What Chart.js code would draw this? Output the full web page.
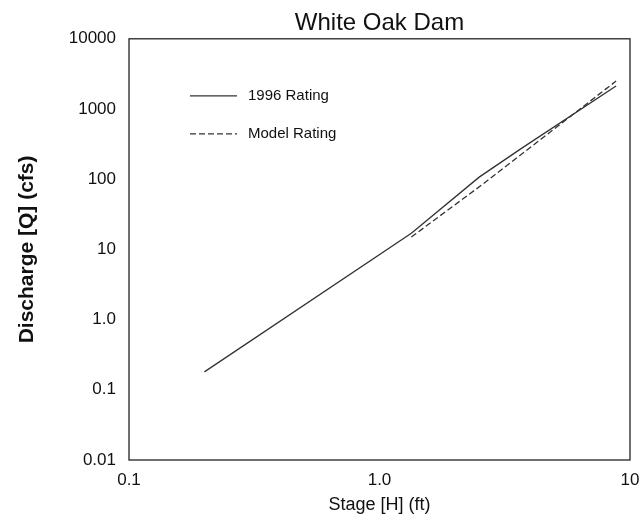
<!DOCTYPE html>
<html>
<head>
<meta charset="utf-8">
<title>White Oak Dam</title>
<script src="https://cdn.jsdelivr.net/npm/chart.js@4.4.0/dist/chart.umd.min.js"></script>
<style>
  html, body { margin: 0; padding: 0; background: #fff; }
  #wrap { width: 643px; height: 521px; }
</style>
</head>
<body>
<div id="wrap"><canvas id="grafico"></canvas></div>
<script>
// datos (escala log-log)
const ratingStage = [0.2, 1.34, 2.5, 3.7, 8.8];
const ratingFlow = [0.18, 17, 107, 277, 2130];

const modelStage = [1.34, 2.55, 8.8];
const modelFlow = [15, 82, 2500];

const xTicks = [0.1, 1, 10];
const xTickLabels = ["0.1", "1.0", "10"];
const yTicks = [0.01, 0.1, 1, 10, 100, 1000, 10000];
const yTickLabels = ["0.01", "0.1", "1.0", "10", "100", "1000", "10000"];

const fuente = '"Liberation Sans", Arial, Helvetica, sans-serif';
const toPoints = (xs, ys) => xs.map((x, i) => ({ x: x, y: ys[i] }));

// marco completo alrededor del area del grafico
const marco = {
    id: 'marco',
    afterDraw(chart) {
        const { ctx, chartArea: a } = chart;
        ctx.save();
        ctx.strokeStyle = '#222';
        ctx.lineWidth = 1.3;
        ctx.strokeRect(a.left, a.top, a.right - a.left, a.bottom - a.top);
        ctx.restore();
    }
};

// leyenda dentro del area, arriba a la izquierda
const leyenda = {
    id: 'leyenda',
    afterDraw(chart) {
        const { ctx, chartArea: a } = chart;
        ctx.save();
        chart.data.datasets.forEach((ds, i) => {
            const y = a.top + 57 + i * 38;
            ctx.strokeStyle = ds.borderColor;
            ctx.lineWidth = ds.borderWidth;
            ctx.setLineDash(ds.borderDash || []);
            ctx.beginPath();
            ctx.moveTo(a.left + 61, y);
            ctx.lineTo(a.left + 108, y);
            ctx.stroke();
            ctx.setLineDash([]);
            ctx.fillStyle = '#111';
            ctx.font = '15px ' + fuente;
            ctx.textBaseline = 'middle';
            ctx.fillText(ds.label, a.left + 119, y);
        });
        ctx.restore();
    }
};

const ctx = document.getElementById('grafico').getContext('2d');
new Chart(ctx, {
    type: 'line',
    data: {
        datasets: [{
            label: '1996 Rating',
            data: toPoints(ratingStage, ratingFlow),
            borderColor: '#333',
            borderWidth: 1.3,
            pointRadius: 0,
            fill: false
        }, {
            label: 'Model Rating',
            data: toPoints(modelStage, modelFlow),
            borderColor: '#333',
            borderWidth: 1.3,
            borderDash: [6, 3],
            pointRadius: 0,
            fill: false
        }]
    },
    options: {
        responsive: true,
        maintainAspectRatio: false,
        animation: false,
        layout: { padding: { top: 0, right: 13, bottom: 0, left: 0 } },
        plugins: {
            legend: { display: false },
            tooltip: { enabled: false },
            title: {
                display: true,
                text: 'White Oak Dam',
                fullSize: false,
                color: '#111',
                font: { family: fuente, size: 24, weight: 'normal' },
                padding: { top: 9, bottom: 1 }
            }
        },
        scales: {
            x: {
                type: 'logarithmic',
                min: 0.1,
                max: 10,
                afterBuildTicks: (axis) => { axis.ticks = xTicks.map(v => ({ value: v })); },
                afterFit: (axis) => {
                    axis.height = 61;
                    axis.paddingLeft = 0;
                    axis.paddingRight = 0;
                },
                grid: { display: false, drawTicks: false },
                border: { display: false },
                ticks: {
                    color: '#111',
                    padding: 10,
                    maxRotation: 0,
                    autoSkip: false,
                    font: { family: fuente, size: 17 },
                    callback: (v) => xTickLabels[xTicks.indexOf(v)]
                },
                title: {
                    display: true,
                    text: 'Stage [H] (ft)',
                    color: '#111',
                    font: { family: fuente, size: 18 },
                    padding: { top: 0, bottom: 5 }
                }
            },
            y: {
                type: 'logarithmic',
                min: 0.01,
                max: 10000,
                afterBuildTicks: (axis) => { axis.ticks = yTicks.map(v => ({ value: v })); },
                afterFit: (axis) => { axis.width = 129; },
                grid: { display: false, drawTicks: false },
                border: { display: false },
                ticks: {
                    color: '#111',
                    padding: 13,
                    autoSkip: false,
                    font: { family: fuente, size: 17 },
                    callback: (v) => yTickLabels[yTicks.indexOf(v)]
                },
                title: {
                    display: true,
                    text: 'Discharge [Q] (cfs)',
                    color: '#111',
                    font: { family: fuente, size: 21, weight: 'bold' },
                    padding: { top: 15, bottom: 0 }
                }
            }
        }
    },
    plugins: [marco, leyenda]
});
</script>
</body>
</html>
